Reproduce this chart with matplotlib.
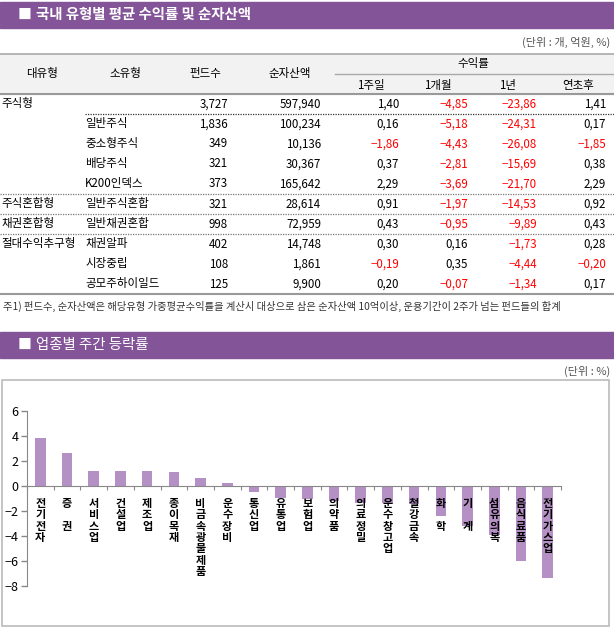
import matplotlib.pyplot as plt
from matplotlib.patches import Rectangle
from matplotlib.lines import Line2D

plt.rcParams['font.family'] = ['Noto Sans CJK KR', 'DejaVu Sans']

W, H = 614, 631

# table data
big_types = ['주식형', '', '', '', '', '주식혼합형', '채권혼합형', '절대수익추구형', '', '']
sub_types = ['', '일반주식', '중소형주식', '배당주식', 'K200인덱스', '일반주식혼합',
             '일반채권혼합', '채권알파', '시장중립', '공모주하이일드']
fund_counts = [3727, 1836, 349, 321, 373, 321, 998, 402, 108, 125]
net_assets = [597940, 100234, 10136, 30367, 165642, 28614, 72959, 14748, 1861, 9900]
ret_1w = [1.40, 0.16, -1.86, 0.37, 2.29, 0.91, 0.43, 0.30, -0.19, 0.20]
ret_1m = [-4.85, -5.18, -4.43, -2.81, -3.69, -1.97, -0.95, 0.16, 0.35, -0.07]
ret_1y = [-23.86, -24.31, -26.08, -15.69, -21.70, -14.53, -9.89, -1.73, -4.44, -1.34]
ret_ytd = [1.41, 0.17, -1.85, 0.38, 2.29, 0.92, 0.43, 0.28, -0.20, 0.17]

# sector weekly change
sectors = ['전기전자', '증권', '서비스업', '건설업', '제조업', '종이목재', '비금속광물제품',
           '운수장비', '통신업', '유통업', '보험업', '의약품', '의료정밀', '운수창고업',
           '철강금속', '화학', '기계', '섬유의복', '음식료품', '전기가스업']
changes = [3.86, 2.66, 1.22, 1.22, 1.20, 1.12, 0.67, 0.27, -0.48, -0.98,
           -1.00, -1.17, -1.39, -1.39, -1.47, -2.37, -3.17, -3.95, -5.97, -7.33]

PURPLE = '#835497'
BAR = '#b590c4'

fig = plt.figure(figsize=(W / 100, H / 100), dpi=100)


def fx(px):
    return px / W


def fy(py):
    return 1 - py / H


def txt(x, y, s, size=8.3, **kw):
    fig.text(fx(x), fy(y), s, va='center', fontsize=size, **kw)


def hline(x0, x1, y, **kw):
    fig.add_artist(Line2D([fx(x0), fx(x1)], [fy(y), fy(y)], **kw))


def fmt(v):
    return ('%.2f' % v).replace('.', ',').replace('-', '−')


# section 1 header
fig.add_artist(Rectangle((0, fy(28)), 1, fy(2) - fy(28), color=PURPLE))
txt(18, 15, '■', color='white', size=10)
txt(36, 15, '국내 유형별 평균 수익률 및 순자산액', color='white', size=10.4, fontweight='bold')
txt(610, 42, '(단위 : 개, 억원, %)', color='#555555', ha='right', size=8)

# table header
fig.add_artist(Rectangle((0, fy(94)), 1, fy(54) - fy(94), color='#f2f2f2'))
hline(0, W, 54, color='#aaaaaa', lw=1.2)
hline(0, W, 94, color='#999999', lw=1.5)
hline(335, W, 74, color='#aaaaaa', lw=1)
for x, s in [(42, '대유형'), (125, '소유형'), (205, '펀드수'), (290, '순자산액')]:
    txt(x, 73, s, ha='center')
txt(473, 63, '수익률', ha='center')
for x, s in [(371, '1주일'), (438, '1개월'), (508, '1년'), (578, '연초후')]:
    txt(x, 85, s, ha='center')

# table rows
for i in range(len(sub_types)):
    y = 104 + 20 * i
    txt(1, y, big_types[i])
    txt(85, y, sub_types[i])
    txt(228, y, format(fund_counts[i], ','), ha='right')
    txt(321, y, format(net_assets[i], ','), ha='right')
    for x, vals in [(399, ret_1w), (468, ret_1m), (537, ret_1y), (606, ret_ytd)]:
        v = vals[i]
        txt(x, y, fmt(v), ha='right', color='red' if v < 0 else 'black')

hline(85, W, 114, color='#333333', lw=0.9, ls=(0, (1, 1)))
for y in [194, 214, 234]:
    hline(0, W, y, color='#777777', lw=0.9, ls=(0, (1, 1)))
hline(0, W, 294, color='#999999', lw=1.5)
txt(3, 306, '주1) 펀드수, 순자산액은 해당유형 가중평균수익률을 계산시 대상으로 삼은 순자산액 10억이상, 운용기간이 2주가 넘는 펀드들의 합계',
    size=7.4, color='#333333')

# section 2 header
fig.add_artist(Rectangle((0, fy(358)), 1, fy(332) - fy(358), color=PURPLE))
txt(18, 345, '■', color='white', size=10)
txt(36, 345, '업종별 주간 등락률', color='white', size=10.4)
txt(610, 371, '(단위 : %)', color='#555555', ha='right', size=8)
fig.add_artist(Rectangle((fx(2), fy(626)), fx(609) - fx(2), fy(380) - fy(626),
                         fill=False, ec='#bbbbbb', lw=1.2))

# bar chart
ax = fig.add_axes([fx(27), fy(586), fx(561) - fx(27), fy(411) - fy(586)])
n = len(sectors)
ax.bar(range(n), changes, width=0.4, color=BAR)
ax.set_xlim(-0.5, n - 0.5)
ax.set_ylim(-8, 6)
ax.set_yticks(range(-8, 7, 2))
ax.tick_params(axis='y', length=4, width=1, color='#888888', labelsize=9, pad=2)
ax.set_xticks([i - 0.5 for i in range(n + 1)])
ax.set_xticklabels([])
ax.tick_params(axis='x', direction='out', length=3, color='#888888')
for s in ['top', 'right']:
    ax.spines[s].set_visible(False)
ax.spines['left'].set_color('#888888')
ax.spines['bottom'].set_color('#888888')
ax.spines['bottom'].set_position(('data', 0))
ax.patch.set_alpha(0)

# vertical stacked category labels
for i, name in enumerate(sectors):
    label = '\n\n'.join(name) if len(name) == 2 else '\n'.join(name)
    ax.annotate(label, xy=(i, 0), xytext=(0, -8), textcoords='offset points',
                ha='center', va='top', fontsize=8, fontweight='bold',
                linespacing=0.83)

fig.savefig('out.png', dpi=100)
